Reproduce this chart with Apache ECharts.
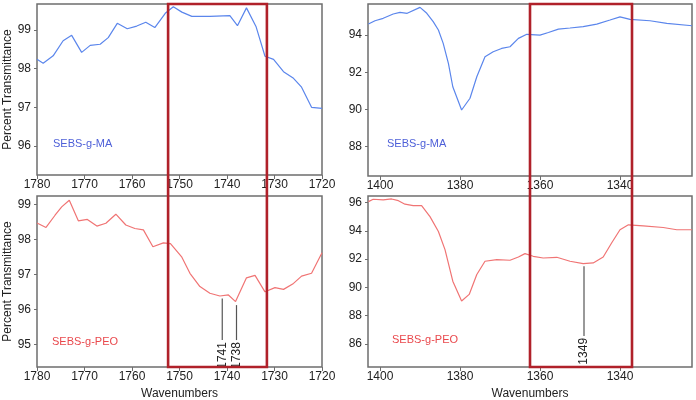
<!DOCTYPE html>
<html lang="en">
<head>
    <meta charset="UTF-8">
    <title>FTIR SEBS-g-MA / SEBS-g-PEO</title>
    <script src="https://cdn.jsdelivr.net/npm/echarts@6.0.0/dist/echarts.min.js"></script>
    <style>
        html, body { margin: 0; padding: 0; background: #fff; }
        #chart { width: 696px; height: 400px; }
    </style>
</head>
<body>
    <div id="chart"></div>
    <script>
        // carbonyl region (left panels)
        var maWnLeft = [1780, 1778.7, 1776.6, 1774.5, 1772.7, 1770.6, 1768.8, 1766.7, 1765, 1763.1, 1761, 1759, 1757.1, 1755.2, 1753, 1751.3, 1749.5, 1747.4, 1743.6, 1739.4, 1737.8, 1735.9, 1733.9, 1732, 1730.2, 1728.1, 1726, 1724.3, 1722.2, 1720];
        var maLeft = [98.24, 98.14, 98.33, 98.72, 98.86, 98.42, 98.6, 98.63, 98.8, 99.17, 99.03, 99.1, 99.2, 99.06, 99.43, 99.6, 99.46, 99.35, 99.35, 99.37, 99.11, 99.57, 99.09, 98.32, 98.24, 97.92, 97.75, 97.52, 97.0, 96.97];
        var peoWnLeft = [1780, 1778.1, 1776.2, 1774.8, 1773.2, 1771.3, 1769.4, 1767.4, 1765.5, 1763.4, 1761.3, 1759.4, 1757.6, 1755.6, 1753.4, 1751.9, 1749.5, 1747.8, 1745.7, 1743.6, 1741.5, 1739.7, 1738.2, 1735.9, 1734.1, 1732, 1729.9, 1728.1, 1726, 1724.3, 1722.2, 1720];
        var peoLeft = [98.47, 98.34, 98.69, 98.93, 99.12, 98.53, 98.57, 98.38, 98.46, 98.72, 98.41, 98.31, 98.27, 97.79, 97.9, 97.88, 97.49, 97.03, 96.65, 96.46, 96.38, 96.41, 96.22, 96.9, 96.97, 96.5, 96.62, 96.57, 96.74, 96.95, 97.03, 97.62];

        // 1380 region (right panels)
        var maWnRight = [1402.9, 1401.25, 1399.2, 1396.7, 1395, 1393.2, 1390, 1388.3, 1386.7, 1385.4, 1384.2, 1382.9, 1381.8, 1379.6, 1377.5, 1375.8, 1373.75, 1371.7, 1369.6, 1367.5, 1365.4, 1363.3, 1360, 1357.9, 1355.4, 1352.5, 1349.2, 1345.8, 1342.5, 1340, 1337.5, 1332.5, 1328.3, 1322];
        var maRight = [94.59, 94.77, 94.9, 95.13, 95.22, 95.17, 95.49, 95.17, 94.72, 94.27, 93.55, 92.48, 91.22, 89.97, 90.6, 91.76, 92.83, 93.1, 93.28, 93.37, 93.82, 94.04, 94.0, 94.14, 94.32, 94.38, 94.45, 94.59, 94.81, 94.98, 94.84, 94.77, 94.63, 94.5];
        var peoWnRight = [1402.9, 1401.7, 1399.2, 1397.1, 1395.4, 1393.75, 1391.7, 1389.6, 1387.5, 1385.4, 1383.75, 1381.8, 1379.6, 1377.7, 1375.8, 1373.75, 1370.8, 1367.5, 1365.4, 1363.75, 1361.7, 1359.2, 1355.8, 1352.5, 1349.2, 1346.7, 1344.2, 1342.1, 1340, 1337.9, 1334.2, 1329.2, 1325.8, 1322];
        var peoRight = [96.07, 96.24, 96.19, 96.26, 96.14, 95.89, 95.79, 95.79, 95.01, 93.96, 92.67, 90.44, 89.03, 89.5, 90.91, 91.85, 91.97, 91.92, 92.15, 92.39, 92.2, 92.08, 92.13, 91.85, 91.68, 91.73, 92.15, 93.14, 94.08, 94.43, 94.36, 94.24, 94.08, 94.08];

        // axis ranges and tick labels
        var xRangeLeft = [1720, 1780];
        var xRangeRight = [1322, 1403];
        var xTicksRight = [1400, 1380, 1360, 1340];
        var yRanges = [[95.25, 99.67], [94.35, 99.24], [86.42, 95.67], [84.36, 96.47]];
        var yTicks = [[96, 97, 98, 99], [95, 96, 97, 98, 99], [88, 90, 92, 94], [86, 88, 90, 92, 94, 96]];

        // highlighted regions (red boxes)
        var boxLeft = [1752.4, 1731.6];
        var boxRight = [1362.5, 1337];

        // marked peaks: [wavenumber, line top, line bottom]
        var peaksLeft = [[1741, 96.31, 95.12], [1738, 96.12, 95.12]];
        var peaksRight = [[1349, 91.49, 86.56]];

        var FONT = 'Liberation Sans, Arial, sans-serif';
        var BLUE = '#5b86ec';
        var RED = '#f07474';
        var FRAME = '#6e6e6e';

        function pairs(xs, ys) {
            return xs.map(function (x, i) { return [x, ys[i]]; });
        }
        function plain(v) { return String(v); }

        var grids = [
            { left: 37, top: 4, width: 285, height: 171 },
            { left: 37, top: 196, width: 285, height: 171 },
            { left: 368, top: 4, width: 324, height: 172 },
            { left: 368, top: 196, width: 324, height: 171 }
        ].map(function (g) {
            return Object.assign(g, {
                show: true, borderColor: FRAME, borderWidth: 1.5,
                containLabel: false, outerBoundsMode: 'none'
            });
        });

        var xAxes = [0, 1, 2, 3].map(function (i) {
            var left = i < 2;
            var ax = {
                type: 'value',
                gridIndex: i,
                inverse: true,
                min: left ? xRangeLeft[0] : xRangeRight[0],
                max: left ? xRangeLeft[1] : xRangeRight[1],
                axisLine: { show: false },
                splitLine: { show: false },
                axisTick: { show: true, length: 4, lineStyle: { color: FRAME } },
                axisLabel: { color: '#222', fontSize: 12, fontFamily: FONT, margin: 4, formatter: plain }
            };
            if (left) {
                ax.interval = 10;
            } else {
                ax.axisTick.customValues = xTicksRight;
                ax.axisLabel.customValues = xTicksRight;
            }
            if (i === 1 || i === 3) {
                ax.name = 'Wavenumbers';
                ax.nameLocation = 'middle';
                ax.nameGap = 21;
                ax.nameTextStyle = { color: '#222', fontSize: 12, fontFamily: FONT };
            }
            return ax;
        });

        var yAxes = [0, 1, 2, 3].map(function (i) {
            var ax = {
                type: 'value',
                gridIndex: i,
                min: yRanges[i][0],
                max: yRanges[i][1],
                axisLine: { show: false },
                splitLine: { show: false },
                axisTick: { show: true, length: 3, customValues: yTicks[i], lineStyle: { color: FRAME } },
                axisLabel: { color: '#222', fontSize: 12, fontFamily: FONT, margin: 6, customValues: yTicks[i], formatter: plain }
            };
            if (i < 2) {
                ax.name = 'Percent Transmittance';
                ax.nameLocation = 'middle';
                ax.nameGap = 19;
                ax.nameTextStyle = { color: '#222', fontSize: 12, fontFamily: FONT };
            }
            return ax;
        });

        function line(i, data, color) {
            return {
                type: 'line',
                xAxisIndex: i,
                yAxisIndex: i,
                data: data,
                symbol: 'none',
                smooth: false,
                silent: true,
                lineStyle: { color: color, width: 1.2 }
            };
        }

        var chart = echarts.init(document.getElementById('chart'));
        chart.setOption({
            animation: false,
            grid: grids,
            xAxis: xAxes,
            yAxis: yAxes,
            series: [
                line(0, pairs(maWnLeft, maLeft), BLUE),
                line(1, pairs(peoWnLeft, peoLeft), RED),
                line(2, pairs(maWnRight, maRight), BLUE),
                line(3, pairs(peoWnRight, peoRight), RED)
            ]
        });

        // red boxes and peak markers, placed through the axes
        var graphics = [];
        function addBox(xi, range) {
            var x1 = chart.convertToPixel({ xAxisIndex: xi }, range[0]);
            var x2 = chart.convertToPixel({ xAxisIndex: xi }, range[1]);
            var y1 = chart.convertToPixel({ yAxisIndex: xi }, yRanges[xi][1]);
            var y2 = chart.convertToPixel({ yAxisIndex: xi + 1 }, yRanges[xi + 1][0]);
            graphics.push({
                type: 'rect', z: 100,
                shape: { x: x1, y: y1, width: x2 - x1, height: y2 - y1 },
                style: { fill: 'none', stroke: '#b0212a', lineWidth: 2.6 }
            });
        }
        function addPeaks(gi, peaks) {
            peaks.forEach(function (p) {
                var x = chart.convertToPixel({ xAxisIndex: gi }, p[0]);
                var yt = chart.convertToPixel({ yAxisIndex: gi }, p[1]);
                var yb = chart.convertToPixel({ yAxisIndex: gi }, p[2]);
                graphics.push({
                    type: 'line', z: 90,
                    shape: { x1: x, y1: yt, x2: x, y2: yb },
                    style: { stroke: '#555', lineWidth: 1.2 }
                });
                graphics.push({
                    type: 'text', z: 90,
                    x: x, y: yb + 2, rotation: Math.PI / 2,
                    style: {
                        text: String(p[0]), fill: '#222', font: '12px ' + FONT,
                        align: 'right', verticalAlign: 'middle'
                    }
                });
            });
        }
        addBox(0, boxLeft);
        addBox(2, boxRight);
        addPeaks(1, peaksLeft);
        addPeaks(3, peaksRight);

        var labels = [
            ['SEBS-g-MA', 53, 145, '#4d5fd8'],
            ['SEBS-g-MA', 387, 145, '#4d5fd8'],
            ['SEBS-g-PEO', 52, 343, '#e9484c'],
            ['SEBS-g-PEO', 392, 341, '#e9484c']
        ];
        labels.forEach(function (l) {
            graphics.push({
                type: 'text', left: l[1], top: l[2] - 7,
                style: { text: l[0], fill: l[3], font: '11px ' + FONT }
            });
        });

        chart.setOption({ graphic: graphics });
    </script>
</body>
</html>
